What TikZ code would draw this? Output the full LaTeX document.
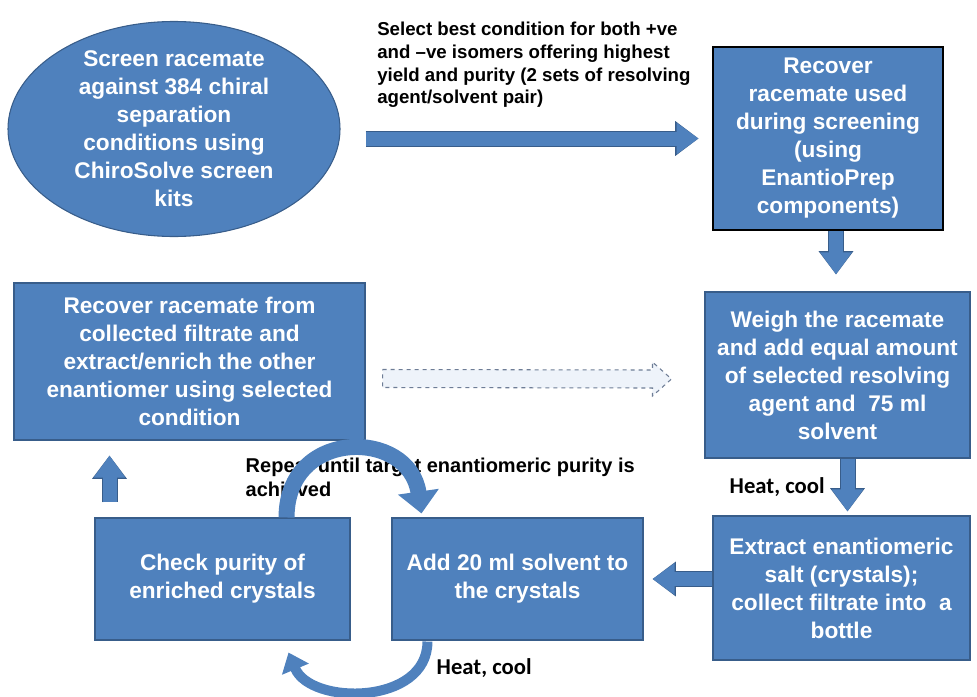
\documentclass[tikz,border=0pt]{standalone}
\usepackage{fontspec}
\setmainfont{Liberation Sans}
\newfontfamily\calfont{Carlito}
\usetikzlibrary{shapes.geometric,arrows.meta,calc}
\definecolor{boxblue}{RGB}{79,129,189}
\definecolor{boxline}{RGB}{56,93,138}
\definecolor{dashfill}{RGB}{238,243,250}
\definecolor{dashline}{RGB}{110,125,150}
\begin{document}
\begin{tikzpicture}[x=0.75pt,y=-0.75pt,
  stepbox/.style={draw=boxline,line width=0.8pt,fill=boxblue,text=white,align=center,inner sep=0pt,
    font=\bfseries\fontsize{17}{21}\selectfont},
  note/.style={align=left,inner sep=0pt,font=\bfseries\fontsize{14}{17}\selectfont},
  heatnote/.style={anchor=west,inner sep=0pt,font=\calfont\bfseries\fontsize{17}{20}\selectfont},
  blockarr/.style={draw=boxblue,line width=10.5pt,-{Triangle[length=16.5pt,width=22.5pt]},
    preaction={draw=boxline,line width=12pt,-{Triangle[length=17.5pt,width=25pt]}}},
  loopline/.style={draw=boxblue,line width=#1}]
\useasboundingbox (0,0) rectangle (977,696);

% screening and recovery
\node[ellipse,draw=boxline,line width=0.8pt,fill=boxblue,minimum width=249pt,minimum height=161.25pt,inner sep=0pt] (screen) at (174,129) {};
\node[stepbox,draw=none,fill=none] (screentxt) at (screen) {Screen racemate\\against 384 chiral\\separation\\conditions using\\ChiroSolve screen\\kits};
\node[stepbox,draw=black,line width=2.2pt,minimum width=172.5pt,minimum height=137.25pt] (recover) at (828,138.5)
  {Recover\\racemate used\\during screening\\(using\\EnantioPrep\\components)};
\node[note,anchor=north west] (select) at (377,22) {Select best condition for both +ve\\and \textendash ve isomers offering highest\\yield and purity (2 sets of resolving\\agent/solvent pair)};

% resolution steps
\node[stepbox,minimum width=198.75pt,minimum height=124.5pt] (weigh) at (837.5,375)
  {Weigh the racemate\\and add equal amount\\of selected resolving\\agent and~ 75 ml\\solvent};
\node[stepbox,minimum width=192.75pt,minimum height=108pt] (extract) at (841.5,588)
  {Extract enantiomeric\\salt (crystals);\\collect filtrate into~ a\\bottle};
\node[stepbox,minimum width=188.25pt,minimum height=91.5pt] (addsolv) at (517.5,579)
  {Add 20 ml solvent to\\the crystals};
\node[stepbox,minimum width=191.25pt,minimum height=91.5pt] (check) at (222.5,579)
  {Check purity of\\enriched crystals};
\node[stepbox,minimum width=263.25pt,minimum height=117.75pt] (recfilt) at (189.5,361.5)
  {Recover racemate from\\collected filtrate and\\extract/enrich the other\\enantiomer using selected\\condition};

\node[heatnote] (heat1) at ($(weigh.south west)+(25,29)$) {Heat, cool};
\node[heatnote] (heat2) at ($(addsolv.south west)+(45,28)$) {Heat, cool};
\node[note,anchor=north west,font=\bfseries\fontsize{15}{18}\selectfont] (repeat) at ($(check.north west)+(151,-60)$)
  {Repeat until target enantiomeric purity is\\achieved};

% block arrows
\draw[blockarr] ($(screen.east |- recover.west)+(25,0)$) -- ($(recover.west)+(-13,0)$);
\draw[blockarr] ($(recover.south)+(8,0)$) -- ($(recover.south |- weigh.north)+(8,-17)$);
\draw[blockarr] ($(weigh.south)+(10,0)$) -- ($(weigh.south |- extract.north)+(10,-4)$);
\draw[blockarr] (extract.west |- addsolv.east) -- ($(addsolv.east)+(9,0)$);
\draw[blockarr] ($(recfilt.south |- check.north)+(-80,-15)$) -- ($(recfilt.south)+(-80,15)$);

% dashed arrow back to the weighing step
\coordinate (ds) at ($(recfilt.east)+(17,17)$);
\coordinate (dt) at ($(weigh.west)+(-33,4)$);
\draw[draw=dashline,fill=dashfill,dashed,line width=0.8pt]
  ($(ds)+(0,-9)$) -- ($(dt)+(-19,-9)$) -- ($(dt)+(-19,-17)$) -- (dt)
  -- ($(dt)+(-19,17)$) -- ($(dt)+(-19,9)$) -- ($(ds)+(0,9)$) -- cycle;

% repeat loops
\draw[loopline=12pt,-{Triangle[length=16.5pt,width=30pt]}]
  ($(check.north east)+(-64,0)$) .. controls +(0,-90) and +(-12,-85) .. ($(addsolv.north west)+(30,-4)$);
\draw[loopline=7.5pt,-{Triangle[length=13.5pt,width=21pt]}]
  ($(addsolv.south west)+(36,1)$) .. controls +(0,64) and +(22,53) .. ($(check.south east)+(-62,12)$);
\end{tikzpicture}
\end{document}
